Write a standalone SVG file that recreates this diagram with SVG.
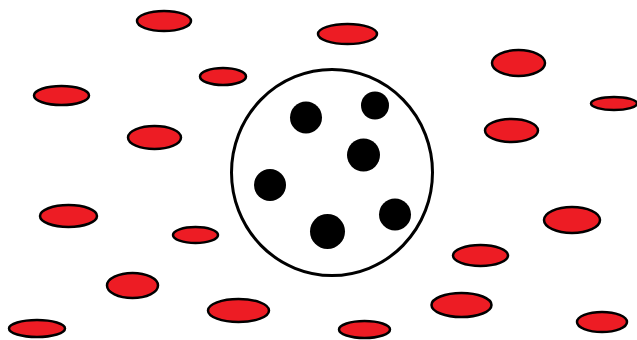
<svg xmlns="http://www.w3.org/2000/svg" width="637" height="340" viewBox="0 0 637 340">
<style>
.r{fill:#ED1C24;stroke:#000;stroke-width:2.5}
.d{fill:#000}
</style>
<rect width="637" height="340" fill="#fff"/>
<g id="outside">
<ellipse class="r" cx="164" cy="21" rx="27" ry="10"/>
<ellipse class="r" cx="223" cy="76.5" rx="23" ry="8.5"/>
<ellipse class="r" cx="61.5" cy="95.5" rx="27.5" ry="9.5"/>
<ellipse class="r" cx="154.5" cy="137.5" rx="26.5" ry="11.5"/>
<ellipse class="r" cx="347.5" cy="34" rx="29.5" ry="10"/>
<ellipse class="r" cx="518.5" cy="63" rx="26.5" ry="13"/>
<ellipse class="r" cx="614" cy="103.5" rx="23" ry="6.5"/>
<ellipse class="r" cx="511.5" cy="130.5" rx="26.5" ry="11.5"/>
<ellipse class="r" cx="68.5" cy="216" rx="28.5" ry="11"/>
<ellipse class="r" cx="195.5" cy="235" rx="22.5" ry="8"/>
<ellipse class="r" cx="132.5" cy="285.5" rx="25.5" ry="12.5"/>
<ellipse class="r" cx="238.5" cy="310.5" rx="30.5" ry="11.5"/>
<ellipse class="r" cx="37" cy="328.5" rx="28" ry="8.5"/>
<ellipse class="r" cx="572" cy="220" rx="28" ry="13"/>
<ellipse class="r" cx="480.5" cy="255.5" rx="27.5" ry="10.5"/>
<ellipse class="r" cx="461.5" cy="305" rx="30" ry="12"/>
<ellipse class="r" cx="602" cy="322" rx="25" ry="10"/>
<ellipse class="r" cx="364.5" cy="329.5" rx="25.5" ry="8.5"/>
</g>
<g id="cell">
<ellipse cx="332" cy="172.5" rx="100.5" ry="103" fill="none" stroke="#000" stroke-width="3"/>
<circle class="d" cx="306" cy="117.5" r="16"/>
<circle class="d" cx="375" cy="105.5" r="14"/>
<circle class="d" cx="363.5" cy="155" r="16.5"/>
<circle class="d" cx="270" cy="185" r="16"/>
<circle class="d" cx="395" cy="214.5" r="16"/>
<circle class="d" cx="327.5" cy="231.5" r="17.5"/>
</g>
</svg>
